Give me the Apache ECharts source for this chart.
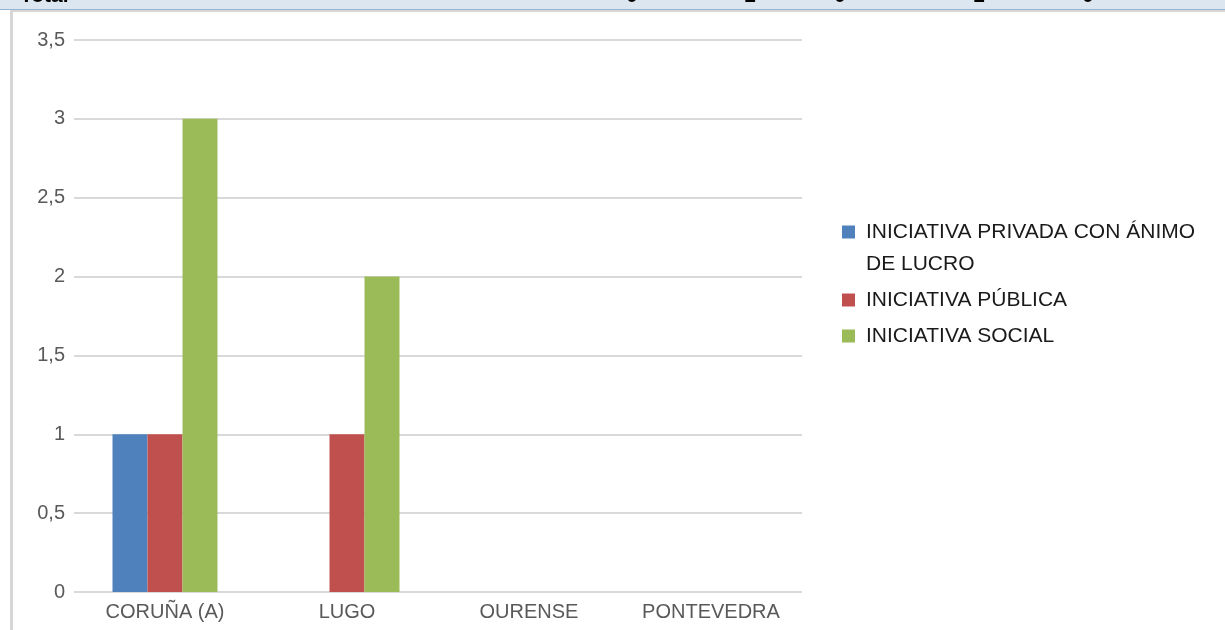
<!DOCTYPE html>
<html>
<head>
<meta charset="utf-8">
<script src="https://cdn.jsdelivr.net/npm/echarts@6/dist/echarts.min.js"></script>
<style>
  html, body { margin: 0; padding: 0; background: #fff; }
  #chart { width: 1225px; height: 630px; }
</style>
</head>
<body>
<div id="chart"></div>
<script>
// provincias
const categories = ['CORUÑA (A)', 'LUGO', 'OURENSE', 'PONTEVEDRA'];
const seriesNames = ['INICIATIVA PRIVADA CON ÁNIMO DE LUCRO', 'INICIATIVA PÚBLICA', 'INICIATIVA SOCIAL'];
const privadaLucro = [1, 0, 0, 0];
const publica = [1, 1, 0, 0];
const social = [3, 2, 0, 0];
const yTicks = { min: 0, max: 3.5, interval: 0.5 };
// trozos de la fila de cabecera de la hoja, cortados arriba
const headerBits = [['Total', 20], ['0', 626], ['1', 744], ['0', 834], ['1', 973], ['0', 1082]];

const colors = ['#4F81BD', '#C0504D', '#9BBB59'];
const font = '"Liberation Sans", Arial, sans-serif';

const chart = echarts.init(document.getElementById('chart'));

const headerGraphics = [
  { type: 'rect', shape: { x: 0, y: 0, width: 1225, height: 9 }, style: { fill: '#DCE6F1' }, silent: true },
  { type: 'rect', shape: { x: 0, y: 9, width: 1225, height: 1 }, style: { fill: '#95B3D7' }, silent: true },
  { type: 'rect', shape: { x: 10, y: 10, width: 1215, height: 2 }, style: { fill: '#D6D6D6' }, silent: true },
  { type: 'rect', shape: { x: 10, y: 10, width: 3, height: 620 }, style: { fill: '#D6D6D6' }, silent: true }
];
headerBits.forEach(([t, x]) => {
  headerGraphics.push({
    type: 'text', x: x, y: -4, silent: true,
    style: { text: t, fill: '#000', font: 'bold 21px ' + font, verticalAlign: 'middle' }
  });
});

const option = {
  backgroundColor: '#fff',
  animation: false,
  color: colors,
  graphic: headerGraphics,
  grid: { left: 74, right: 423, top: 40, bottom: 38 },
  legend: {
    orient: 'vertical',
    left: 837,
    top: 179,
    icon: 'rect',
    itemWidth: 13,
    itemHeight: 13,
    itemGap: 4,
    selectedMode: false,
    textStyle: { color: '#1a1a1a', fontFamily: font, fontSize: 21, lineHeight: 32, padding: [0, 0, 0, 6] },
    // linea vacia arriba para que el cuadrado quede en la primera linea
    formatter: name => name.indexOf(' DE LUCRO') > 0 ? '\n' + name.replace(' DE LUCRO', '\nDE LUCRO') : name,
    data: seriesNames
  },
  xAxis: {
    type: 'category',
    data: categories,
    axisLine: { show: false },
    axisTick: { show: false },
    axisLabel: { color: '#595959', fontFamily: font, fontSize: 20, margin: 10 }
  },
  yAxis: {
    type: 'value',
    min: yTicks.min,
    max: yTicks.max,
    interval: yTicks.interval,
    axisLine: { show: false },
    axisTick: { show: false },
    splitLine: { lineStyle: { color: '#D9D9D9', width: 2 } },
    axisLabel: {
      color: '#595959', fontFamily: font, fontSize: 20, margin: 9,
      formatter: v => String(v).replace('.', ',')
    }
  },
  series: [
    { name: seriesNames[0], type: 'bar', data: privadaLucro, barWidth: 35, barGap: '0%' },
    { name: seriesNames[1], type: 'bar', data: publica, barWidth: 35, barGap: '0%' },
    { name: seriesNames[2], type: 'bar', data: social, barWidth: 35, barGap: '0%' }
  ]
};

chart.setOption(option);
</script>
</body>
</html>
